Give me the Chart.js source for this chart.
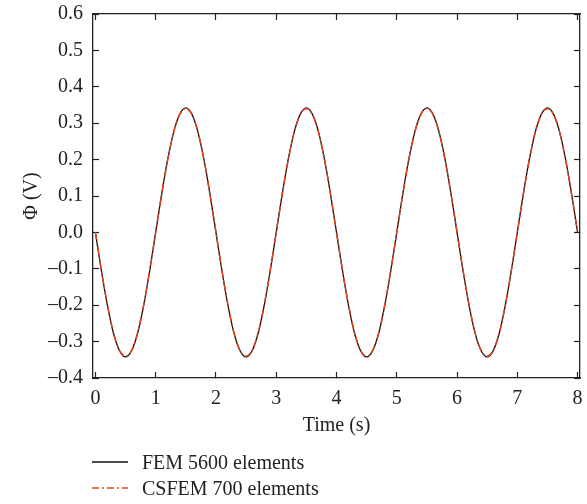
<!DOCTYPE html>
<html>
<head>
<meta charset="utf-8">
<script src="https://cdn.jsdelivr.net/npm/chart.js@4/dist/chart.umd.min.js"></script>
<style>
  html, body { margin: 0; padding: 0; background: #fff; }
  .wrap { position: relative; width: 587px; height: 504px; }
  #legend {
    position: absolute; left: 92px; top: 449px;
    font-family: "Liberation Serif", serif; font-size: 20px; color: #222;
  }
  #legend .row { display: flex; align-items: center; height: 26px; }
  #legend svg { width: 36px; height: 6px; margin-right: 14px; }
</style>
</head>
<body>
<div class="wrap">
  <canvas id="phiChart" width="587" height="504"></canvas>
  <div id="legend">
    <div class="row">
      <svg><line x1="0" y1="3" x2="36" y2="3" stroke="#111" stroke-width="1.3"/></svg>
      <span>FEM 5600 elements</span>
    </div>
    <div class="row">
      <svg><line x1="0" y1="3" x2="36" y2="3" stroke="#e8401c" stroke-width="1.5" stroke-dasharray="7 3 2 3"/></svg>
      <span>CSFEM 700 elements</span>
    </div>
  </div>
</div>
<script>
// Time samples (s)
const timeValues = [
  0.0, 0.1, 0.2, 0.3, 0.4, 0.5, 0.6, 0.7, 0.8, 0.9,
  1.0, 1.1, 1.2, 1.3, 1.4, 1.5, 1.6, 1.7, 1.8, 1.9,
  2.0, 2.1, 2.2, 2.3, 2.4, 2.5, 2.6, 2.7, 2.8, 2.9,
  3.0, 3.1, 3.2, 3.3, 3.4, 3.5, 3.6, 3.7, 3.8, 3.9,
  4.0, 4.1, 4.2, 4.3, 4.4, 4.5, 4.6, 4.7, 4.8, 4.9,
  5.0, 5.1, 5.2, 5.3, 5.4, 5.5, 5.6, 5.7, 5.8, 5.9,
  6.0, 6.1, 6.2, 6.3, 6.4, 6.5, 6.6, 6.7, 6.8, 6.9,
  7.0, 7.1, 7.2, 7.3, 7.4, 7.5, 7.6, 7.7, 7.8, 7.9,
  8.0
];

// Φ (V), FEM 5600 elements
const femValues = [
  0.000, -0.106, -0.201, -0.277, -0.325, -0.342, -0.325, -0.277, -0.201, -0.106,
  0.000, 0.106, 0.201, 0.277, 0.325, 0.342, 0.325, 0.277, 0.201, 0.106,
  0.000, -0.106, -0.201, -0.277, -0.325, -0.342, -0.325, -0.277, -0.201, -0.106,
  0.000, 0.106, 0.201, 0.277, 0.325, 0.342, 0.325, 0.277, 0.201, 0.106,
  0.000, -0.106, -0.201, -0.277, -0.325, -0.342, -0.325, -0.277, -0.201, -0.106,
  0.000, 0.106, 0.201, 0.277, 0.325, 0.342, 0.325, 0.277, 0.201, 0.106,
  0.000, -0.106, -0.201, -0.277, -0.325, -0.342, -0.325, -0.277, -0.201, -0.106,
  0.000, 0.106, 0.201, 0.277, 0.325, 0.342, 0.325, 0.277, 0.201, 0.106,
  0.000
];

// Φ (V), CSFEM 700 elements
const csfemValues = [
  0.000, -0.105, -0.200, -0.276, -0.324, -0.340, -0.324, -0.276, -0.200, -0.105,
  0.000, 0.105, 0.200, 0.276, 0.324, 0.340, 0.324, 0.276, 0.200, 0.105,
  0.000, -0.105, -0.200, -0.276, -0.324, -0.340, -0.324, -0.276, -0.200, -0.105,
  0.000, 0.105, 0.200, 0.276, 0.324, 0.340, 0.324, 0.276, 0.200, 0.105,
  0.000, -0.105, -0.200, -0.276, -0.324, -0.340, -0.324, -0.276, -0.200, -0.105,
  0.000, 0.105, 0.200, 0.276, 0.324, 0.340, 0.324, 0.276, 0.200, 0.105,
  0.000, -0.105, -0.200, -0.276, -0.324, -0.340, -0.324, -0.276, -0.200, -0.105,
  0.000, 0.105, 0.200, 0.276, 0.324, 0.340, 0.324, 0.276, 0.200, 0.105,
  0.000
];

const xTicks = [0, 1, 2, 3, 4, 5, 6, 7, 8];
const xRange = [-0.04, 8.04];
const yRange = [-0.4, 0.6];

const FONT = { family: '"Liberation Serif", serif', size: 20 };
const INK = '#222';

const toPoints = (ys) => ys.map((y, i) => ({ x: timeValues[i], y: y }));

// inward tick marks on a box frame
const frameGrid = {
  drawOnChartArea: false,
  drawTicks: true,
  tickLength: -6,
  tickWidth: 1.2,
  color: INK
};
const frameBorder = { display: true, color: INK, width: 1.3 };

// label overflow is handled by layout padding, not by the scales
const noPad = (s) => { s.paddingTop = 0; s.paddingBottom = 0; s.paddingLeft = 0; s.paddingRight = 0; };

const ctx = document.getElementById('phiChart').getContext('2d');
new Chart(ctx, {
  type: 'line',
  data: {
    datasets: [
      {
        label: 'FEM 5600 elements',
        data: toPoints(femValues),
        borderColor: '#111',
        borderWidth: 1.3,
        pointRadius: 0,
        cubicInterpolationMode: 'monotone',
        order: 1
      },
      {
        label: 'CSFEM 700 elements',
        data: toPoints(csfemValues),
        borderColor: '#e8401c',
        borderWidth: 1.5,
        borderDash: [7, 3, 2, 3],
        pointRadius: 0,
        cubicInterpolationMode: 'monotone',
        order: 0
      }
    ]
  },
  options: {
    responsive: false,
    animation: false,
    layout: { padding: { left: 0, right: 7, top: 14, bottom: 66 } },
    plugins: {
      legend: { display: false },
      tooltip: { enabled: false }
    },
    scales: {
      x: {
        type: 'linear',
        position: 'bottom',
        min: xRange[0],
        max: xRange[1],
        afterBuildTicks: (s) => { s.ticks = xTicks.map(v => ({ value: v })); },
        afterFit: (s) => { s.height = 60; noPad(s); },
        grid: frameGrid,
        border: frameBorder,
        ticks: { color: INK, font: FONT, padding: 15, maxRotation: 0 },
        title: { display: true, text: 'Time (s)', color: INK, font: FONT, padding: { top: 0, bottom: 0 } }
      },
      x2: {
        type: 'linear',
        position: 'top',
        min: xRange[0],
        max: xRange[1],
        afterBuildTicks: (s) => { s.ticks = xTicks.map(v => ({ value: v })); },
        afterFit: (s) => { s.height = 0; noPad(s); },
        grid: frameGrid,
        border: frameBorder,
        ticks: { display: false }
      },
      y: {
        type: 'linear',
        position: 'left',
        min: yRange[0],
        max: yRange[1],
        afterFit: (s) => { s.width = 93; noPad(s); },
        grid: frameGrid,
        border: frameBorder,
        ticks: {
          color: INK,
          font: FONT,
          padding: 16,
          stepSize: 0.1,
          callback: (v) => v.toFixed(1).replace('-', '\u2013')
        },
        title: { display: true, text: 'Φ (V)', color: INK, font: FONT, padding: { top: 20, bottom: 0 } }
      },
      y2: {
        type: 'linear',
        position: 'right',
        min: yRange[0],
        max: yRange[1],
        afterFit: (s) => { s.width = 0; noPad(s); },
        grid: frameGrid,
        border: frameBorder,
        ticks: { display: false, stepSize: 0.1 }
      }
    }
  }
});
</script>
</body>
</html>
